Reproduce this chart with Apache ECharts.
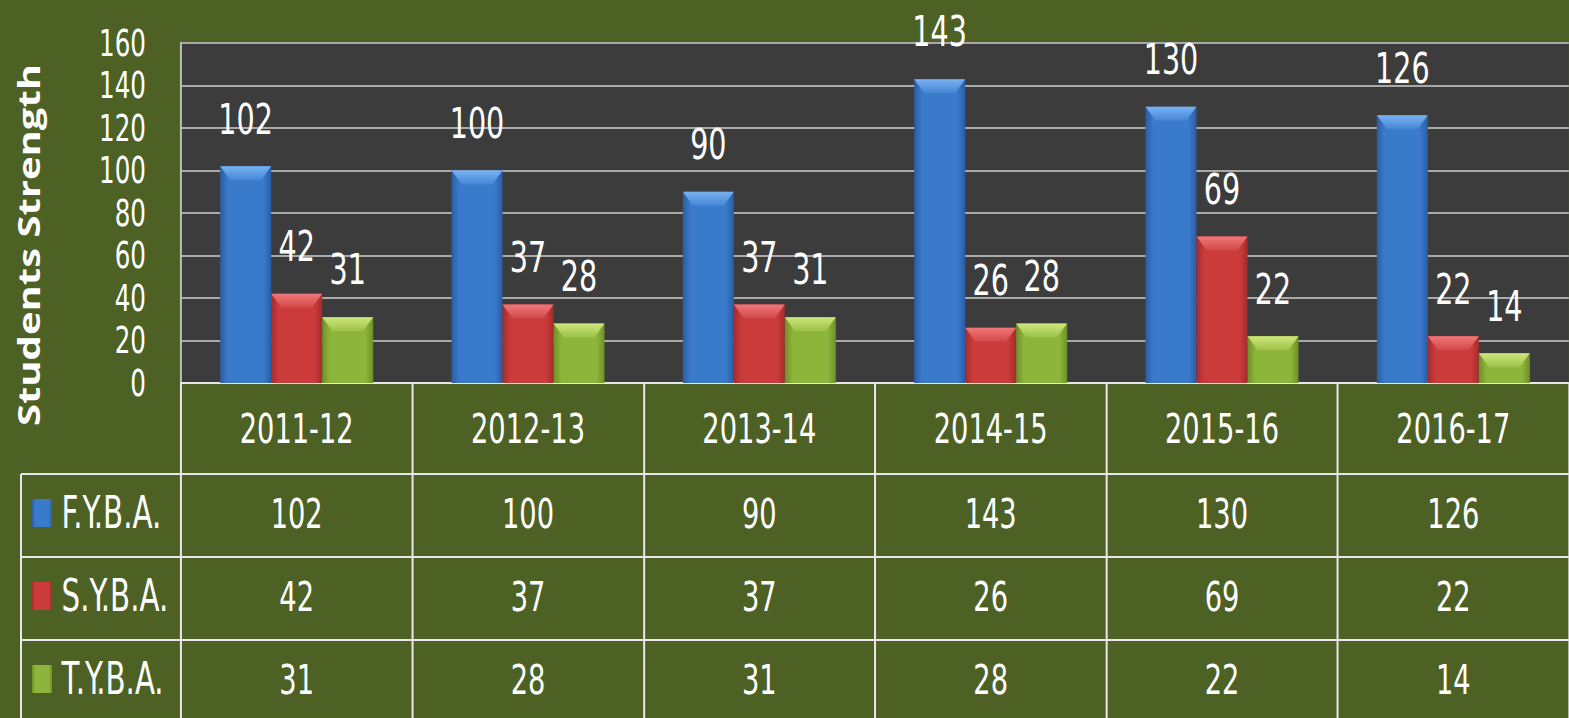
<!DOCTYPE html>
<html>
<head>
<meta charset="utf-8">
<script src="https://cdn.jsdelivr.net/npm/echarts@6/dist/echarts.min.js"></script>
<style>
html,body{margin:0;padding:0;background:#4e6125;overflow:hidden;width:1569px;height:718px;}
#chart{height:718px;transform-origin:0 0;}
</style>
</head>
<body>
<div id="chart"></div>
<script>
const categories = ['2011-12','2012-13','2013-14','2014-15','2015-16','2016-17'];
const seriesNames = ['F.Y.B.A.','S.Y.B.A.','T.Y.B.A.'];
const fyba = [102,100,90,143,130,126];
const syba = [42,37,37,26,69,22];
const tyba = [31,28,31,28,22,14];
const yMin = 0, yMax = 160, yStep = 20;
const yTitle = 'Students Strength';

// The reference uses a tall, narrow face; draw in a wider box and squeeze it horizontally.
const S = 0.74;
const W = 1569, H = 718;
const X = v => v / S;               // page px -> chart units (horizontal)
const el = document.getElementById('chart');
el.style.width = X(W) + 'px';
el.style.transform = 'scaleX(' + S + ')';

const FONT = "'DejaVu Sans Condensed','DejaVu Sans',sans-serif";
const gridLeft = X(181), gridTop = 43, axisY = 383, rowH = 83;
const tableLeft = X(21);
const lineColor = '#e8e8e8';
const barW = X(51);

function grad(edge, mid) {
  return new echarts.graphic.LinearGradient(0,0,1,0,[
    {offset:0,color:edge},{offset:0.15,color:mid},{offset:0.85,color:mid},{offset:1,color:edge}
  ]);
}
function bevel(top, mid) {
  return new echarts.graphic.LinearGradient(0,0,0,1,[
    {offset:0,color:top},{offset:1,color:mid}
  ]);
}
const colors = [grad('#2b5ca4','#3a7aca'), grad('#a32c2c','#cb3b3b'), grad('#6e9027','#8db43b')];
const bevels = [bevel('#78b2f2','#4586d4'), bevel('#f07878','#d24848'), bevel('#cfe77c','#9cc148')];
const rows = [fyba, syba, tyba];

const chart = echarts.init(el, null, {renderer:'svg', width:X(W), height:H});

const xAxes = [{
  type:'category', data:categories, position:'bottom', gridIndex:0,
  axisLine:{show:true,lineStyle:{color:lineColor,width:2}},
  axisTick:{show:true,interval:0,length:H-axisY,lineStyle:{color:lineColor,width:X(2)}},
  axisLabel:{color:'#fff',fontFamily:FONT,fontSize:41,margin:26,interval:0}
}];
rows.forEach((r,i)=>{
  xAxes.push({
    type:'category', data:categories, position:'bottom', gridIndex:0, offset:rowH*(i+1)+8,
    axisLine:{show:true,lineStyle:{color:lineColor,width:2}},
    axisTick:{show:false},
    axisLabel:{color:'#fff',fontFamily:FONT,fontSize:41,margin:20,interval:0,
      formatter:(v,idx)=>String(r[idx])}
  });
});

const graphics = [];
for (let i=0;i<3;i++){
  const y = axisY + rowH*(i+1) + 8;
  graphics.push({type:'line',shape:{x1:tableLeft,y1:y,x2:gridLeft,y2:y},style:{stroke:lineColor,lineWidth:2},z:10});
}
graphics.push({type:'line',shape:{x1:tableLeft,y1:axisY+rowH+8,x2:tableLeft,y2:H},style:{stroke:lineColor,lineWidth:X(2)},z:10});
graphics.push({type:'text',x:X(28),y:245,rotation:Math.PI/2,
  style:{text:yTitle,fill:'#fff',font:"bold 40px 'Open Sans', sans-serif",textAlign:'center',textVerticalAlign:'middle'}});

const barSeries = rows.map((r,i)=>({
  name:seriesNames[i], type:'bar', data:r, barWidth:barW, barGap:'0%', xAxisIndex:0,
  itemStyle:{color:colors[i]},
  label:{show:true,position:'top',distance:26,color:'#fff',fontFamily:FONT,fontSize:43}
}));
const bevelSeries = rows.map((r,i)=>({
  name:'bevel'+i, type:'pictorialBar', data:r, xAxisIndex:0, z:3,
  symbol:'path://M0,0 L20,0 L16,5 L4,5 Z', symbolKeepAspect:false,
  symbolSize:[barW,14], symbolPosition:'end', symbolOffset:[(i-1)*barW,0],
  itemStyle:{color:bevels[i]}, silent:true
}));

chart.setOption({
  backgroundColor:'#4e6125',
  animation:false,
  grid:{left:gridLeft,top:gridTop,right:X(-5),bottom:H-axisY,backgroundColor:'#3c3c3c',show:true,borderWidth:0},
  legend:{
    data:seriesNames, orient:'vertical', left:X(32), top:491, padding:0,
    itemWidth:X(20), itemHeight:28, itemGap:39,
    icon:'rect', selectedMode:false,
    textStyle:{color:'#fff',fontFamily:FONT,fontSize:44,lineHeight:44,padding:[0,0,0,8]}
  },
  xAxis:xAxes,
  yAxis:{
    type:'value', min:yMin, max:yMax, interval:yStep,
    axisLine:{show:true,lineStyle:{color:'#bdbdbd',width:X(2)}},
    axisTick:{show:false},
    splitLine:{show:true,lineStyle:{color:'#a9a9a9',width:2}},
    axisLabel:{color:'#fff',fontFamily:FONT,fontSize:37,lineHeight:37,margin:X(35),
      showMinLabel:true, showMaxLabel:true, hideOverlap:false}
  },
  graphic:graphics,
  series: barSeries.concat(bevelSeries)
});
</script>
</body>
</html>
